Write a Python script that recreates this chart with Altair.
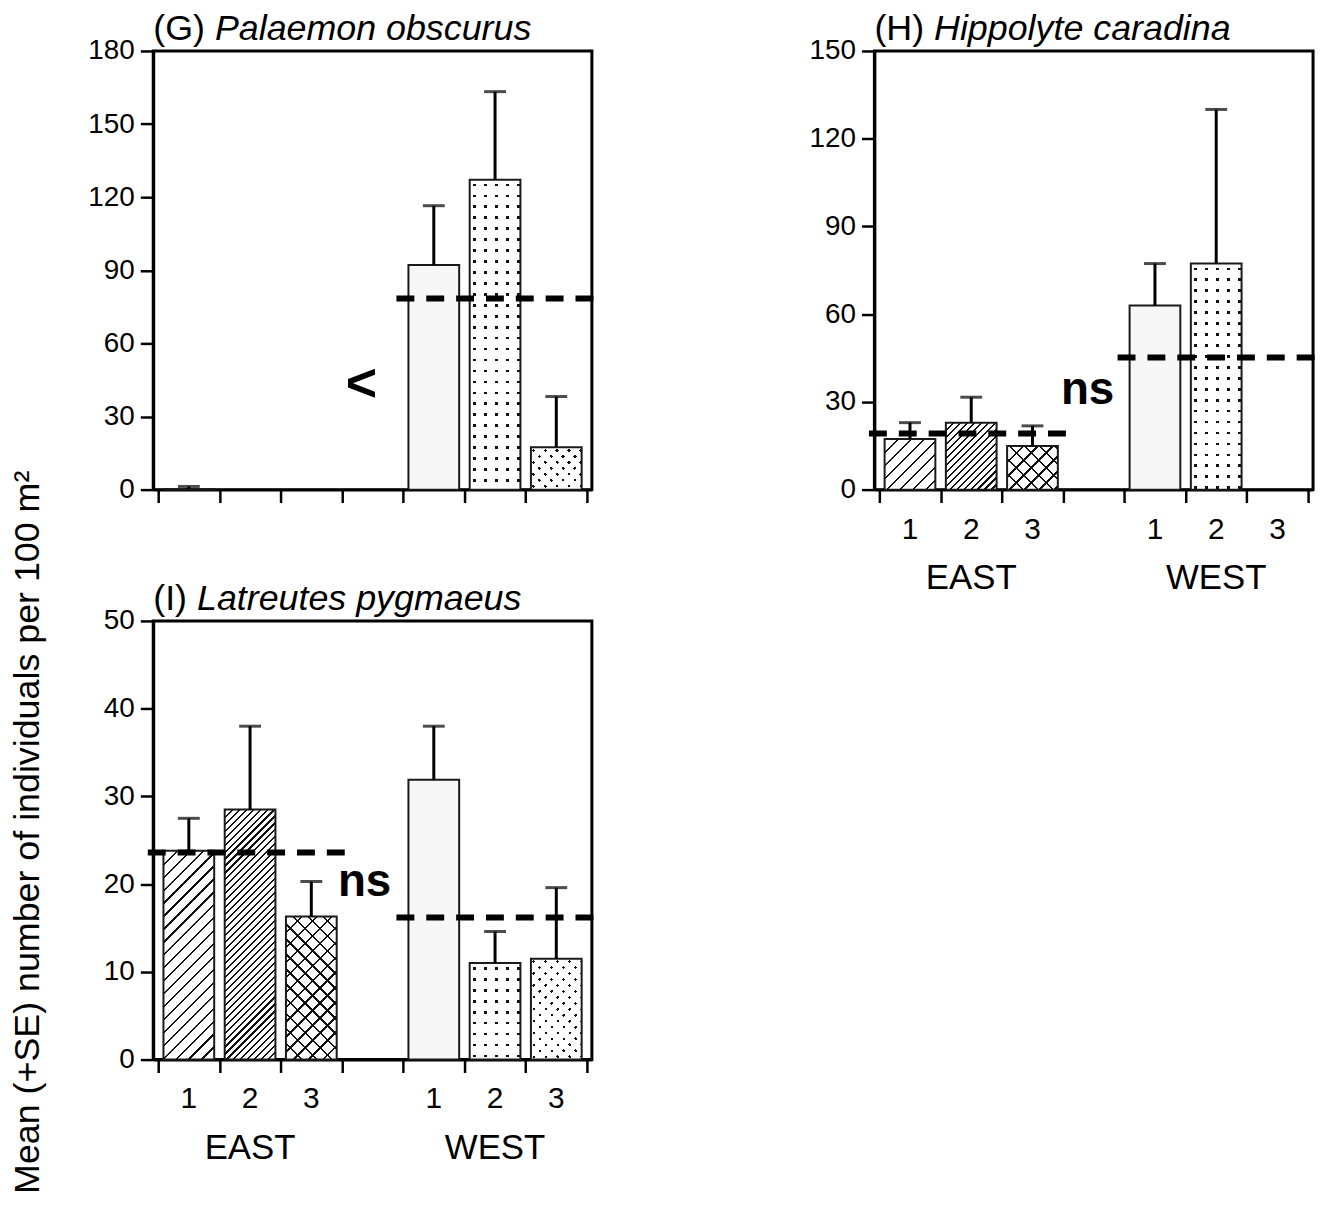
import altair as alt
import pandas as pd

FONT = "Liberation Sans"

# ---- data ----
sites = ["1", "2", "3", "1", "2", "3"]
regions = ["EAST", "EAST", "EAST", "WEST", "WEST", "WEST"]
fill_keys = ["E1", "E2", "E3", "W1", "W2", "W3"]

g_mean = [0.3, None, None, 92.2, 127.2, 17.4]
g_se = [1.0, None, None, 24.3, 36.1, 20.8]

h_mean = [17.3, 22.9, 14.9, 63.0, 77.3, None]
h_se = [5.6, 8.7, 6.9, 14.3, 52.7, None]

i_mean = [23.8, 28.5, 16.3, 31.9, 11.0, 11.5]
i_se = [3.7, 9.5, 4.0, 6.1, 3.6, 8.1]

# pooled region means (dashed lines)
g_pool_regions = ["WEST"]
g_pool_values = [78.4]
h_pool_regions = ["EAST", "WEST"]
h_pool_values = [19.2, 45.2]
i_pool_regions = ["EAST", "WEST"]
i_pool_values = [23.6, 16.2]

# significance symbols
g_sig = "<"
h_sig = "ns"
i_sig = "ns"
g_sig_y = 43
h_sig_y = 34
i_sig_y = 20.2

y_title = "Mean (+SE) number of individuals per 100 m\u00b2"

# ---- styling ----
W = 441
H = 441
BAR_W = 51
INK = "#111111"
CLEAR = "rgba(255,255,255,0)"
TITLE_Y = -11


def make_grad(x1, y1, x2, y2, span, period, width, bg, fg, phase):
    stops = [(0.0, bg)]
    s = phase
    while s < span:
        a, b = max(s, 0.0), min(s + width, span)
        if b > a:
            stops += [(a / span, bg), (a / span, fg), (b / span, fg), (b / span, bg)]
        s += period
    stops.append((1.0, bg))
    return {"gradient": "linear", "x1": x1, "y1": y1, "x2": x2, "y2": y2,
            "stops": [{"offset": round(o, 6), "color": c} for o, c in stops]}


def diag(w, h, direction, period, width, bg, fg, phase=0.0):
    k = (w + h) / (w * w + h * h)
    if direction == "/":
        return make_grad(0, 0, k * w, k * h, w + h, period, width, bg, fg, phase)
    return make_grad(0, 1, k * w, 1 - k * h, w + h, period, width, bg, fg, phase)


def cols(w, period, width, bg, fg, phase):
    return make_grad(0, 0, 1, 0, w, period, width, bg, fg, phase)


def rows(h, period, width, bg, fg, phase):
    return make_grad(0, 0, 1e-6, 1, h, period, width, bg, fg, phase)


def fills(key, h):
    w = BAR_W
    h = max(h, 1.0)
    if key == "E1":
        return diag(w, h, "/", 13, 2.3, "white", INK), "transparent", "transparent"
    if key == "E2":
        return diag(w, h, "/", 7, 2.1, "white", INK), "transparent", "transparent"
    if key == "E3":
        return (diag(w, h, "/", 15, 2.4, "white", INK),
                diag(w, h, "\\", 15, 2.4, CLEAR, INK), "transparent")
    if key == "W1":
        return "#f7f7f7", "transparent", "transparent"
    if key == "W2":
        return (INK, cols(w, 11, 2.7, "white", CLEAR, 3.5),
                rows(h, 11, 2.7, "white", CLEAR, 4.0))
    # W3: staggered dots
    return (INK, diag(w, h, "/", 12, 3.2, "white", CLEAR, 4.0),
            diag(w, h, "\\", 12, 3.2, "white", CLEAR, 4.0))


def slot_center(site, region):
    return int(site) - 0.5 + (4 if region == "WEST" else 0)


def panel(mean, se, pool_regions, pool_values, sig, sig_size, sig_x, sig_y, ymax, ystep,
          letter, species, title_dx, show_labels, lab_dy, reg_dy, y_axis_title=None):
    recs = []
    for s, r, k, m, e in zip(sites, regions, fill_keys, mean, se):
        if m is None:
            continue
        fa, fb, fc = fills(k, m / ymax * H)
        recs.append({"site": s, "region": r, "key": k, "x": slot_center(s, r),
                     "mean": m, "fillA": fa, "fillB": fb, "fillC": fc})
    bar_data = alt.Data(values=recs)

    err_df = pd.DataFrame({"site": sites, "region": regions, "mean": mean, "se": se})
    err_df = err_df.dropna(subset=["mean", "se"]).copy()
    err_df["x"] = [slot_center(s, r) for s, r in zip(err_df["site"], err_df["region"])]
    err_df["top"] = err_df["mean"] + err_df["se"]

    xscale = alt.Scale(domain=[0, 7], nice=False, zero=False)
    yscale = alt.Scale(domain=[0, ymax], nice=False, zero=True)

    xaxis = alt.Axis(values=list(range(8)), title=None, grid=False, labels=False,
                     domainWidth=3, domainColor="black", tickSize=13,
                     tickWidth=2.5, tickColor="black")

    yaxis_kwargs = dict(values=list(range(0, ymax + 1, ystep)), grid=False,
                        domainWidth=3, domainColor="black", tickSize=13,
                        tickWidth=2.5, tickColor="black", labelFontSize=28,
                        labelPadding=6, labelColor="black", labelFont=FONT,
                        title=None)
    if y_axis_title:
        yaxis_kwargs.update(title=y_axis_title, titleFont=FONT, titleFontSize=36,
                            titleFontWeight="normal", titleColor="black",
                            titleAngle=270, titleBaseline="alphabetic",
                            titleX=-115, titleY=212, titleAlign="center")
    yaxis = alt.Axis(**yaxis_kwargs)

    enc_x = alt.X("x:Q", scale=xscale, axis=xaxis)
    enc_y = alt.Y("mean:Q", scale=yscale, axis=yaxis, stack=None)

    bar_a = alt.Chart(bar_data).mark_bar(size=BAR_W, orient="vertical").encode(
        x=enc_x, y=enc_y, fill=alt.Fill("fillA:N", scale=None))
    bar_b = alt.Chart(bar_data).mark_bar(size=BAR_W, orient="vertical").encode(
        x="x:Q", y=alt.Y("mean:Q", stack=None), fill=alt.Fill("fillB:N", scale=None))
    bar_c = alt.Chart(bar_data).mark_bar(size=BAR_W, orient="vertical").encode(
        x="x:Q", y=alt.Y("mean:Q", stack=None), fill=alt.Fill("fillC:N", scale=None))
    bar_o = alt.Chart(bar_data).mark_bar(size=BAR_W, orient="vertical", fillOpacity=0,
                                         stroke="#1a1a1a", strokeWidth=2).encode(
        x="x:Q", y=alt.Y("mean:Q", stack=None))

    err = alt.Chart(err_df).mark_rule(color="black", strokeWidth=3).encode(
        x="x:Q", y="mean:Q", y2="top:Q")
    cap = alt.Chart(err_df).mark_tick(color="black", orient="horizontal", size=22,
                                       thickness=3).encode(x="x:Q", y="top:Q")

    pool_df = pd.DataFrame({"region": pool_regions, "val": pool_values})
    pool_df["x0"] = [(-0.17 if r == "EAST" else 3.89) for r in pool_regions]
    pool_df["x1"] = [(3.05 if r == "EAST" else 7.14) for r in pool_regions]
    dashed = alt.Chart(pool_df).mark_rule(color="black", strokeWidth=6,
                                          strokeDash=[18, 12]).encode(
        x="x0:Q", x2="x1:Q", y="val:Q")

    sig_df = pd.DataFrame({"t": [sig], "x": [sig_x], "y": [sig_y]})
    sigm = alt.Chart(sig_df).mark_text(font=FONT, fontSize=sig_size, fontWeight="bold",
                                       baseline="middle", align="center",
                                       color="black").encode(
        x="x:Q", y="y:Q", text="t:N")

    t1 = alt.Chart(pd.DataFrame({"t": [letter]})).mark_text(
        font=FONT, fontSize=36, align="left", baseline="alphabetic", color="black"
    ).encode(x=alt.value(0), y=alt.value(TITLE_Y), text="t:N")
    t2 = alt.Chart(pd.DataFrame({"t": [species]})).mark_text(
        font=FONT, fontSize=36, fontStyle="italic", align="left", baseline="alphabetic",
        color="black"
    ).encode(x=alt.value(title_dx), y=alt.value(TITLE_Y), text="t:N")

    layers = [bar_a, bar_b, bar_c, bar_o, err, cap, dashed, sigm, t1, t2]
    if show_labels:
        lab_df = pd.DataFrame({"site": sites, "region": regions})
        lab_df["x"] = [slot_center(s, r) for s, r in zip(sites, regions)]
        labs = alt.Chart(lab_df).mark_text(font=FONT, fontSize=30, align="center",
                                           baseline="alphabetic", color="black").encode(
            x="x:Q", y=alt.value(H + lab_dy), text="site:N")
        reg_df = pd.DataFrame({"region": ["EAST", "WEST"]})
        reg_df["x"] = [slot_center("2", r) for r in reg_df["region"]]
        reg = alt.Chart(reg_df).mark_text(font=FONT, fontSize=35, align="center",
                                          baseline="alphabetic", color="black").encode(
            x="x:Q", y=alt.value(H + reg_dy), text="region:N")
        layers += [labs, reg]
    return alt.layer(*layers).properties(width=W, height=H)


g = panel(g_mean, g_se, g_pool_regions, g_pool_values, g_sig, 54, 3.32, g_sig_y,
          180, 30, "(G)", "Palaemon obscurus", 62, False, 0, 0)
h = panel(h_mean, h_se, h_pool_regions, h_pool_values, h_sig, 46, 3.4, h_sig_y,
          150, 30, "(H)", "Hippolyte caradina", 60, True, 50, 100)
i = panel(i_mean, i_se, i_pool_regions, i_pool_values, i_sig, 46, 3.37, i_sig_y,
          50, 10, "(I)", "Latreutes pygmaeus", 44, True, 49, 100, y_axis_title=y_title)

chart = alt.concat(g, h, i, columns=2, spacing={"row": 132, "column": 284},
                   bounds="flush").properties(
    padding={"left": 0, "top": -2, "right": 0, "bottom": 5}
).configure(font=FONT).configure_view(stroke="black", strokeWidth=3)

chart.save("out.html", embed_options={"renderer": "svg", "actions": False})
